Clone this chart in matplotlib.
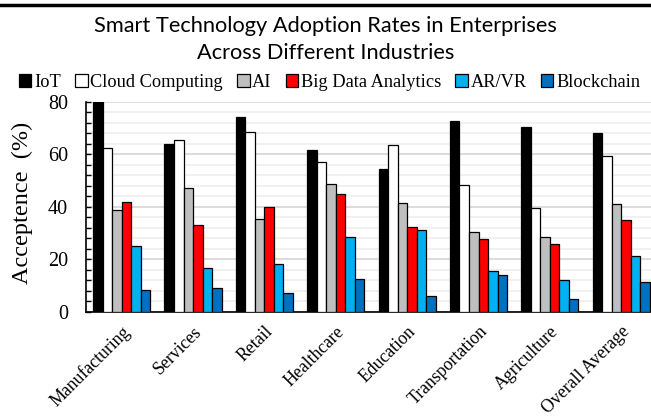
import numpy as np
import matplotlib
matplotlib.use('Agg')
import matplotlib.pyplot as plt
from matplotlib.lines import Line2D
from matplotlib.ticker import MultipleLocator

industries = ['Manufacturing', 'Services', 'Retail', 'Healthcare', 'Education',
              'Transportation', 'Agriculture', 'Overall Average']
technologies = ['IoT', 'Cloud Computing', 'AI', 'Big Data Analytics', 'AR/VR', 'Blockchain']

iot = [80.0, 63.9, 74.4, 61.7, 54.5, 72.8, 70.5, 68.2]
cloud = [62.4, 65.7, 68.5, 57.0, 63.8, 48.4, 39.8, 59.3]
ai = [38.7, 47.4, 35.4, 48.6, 41.7, 30.4, 28.5, 41.0]
big_data = [42.0, 33.2, 40.0, 45.0, 32.4, 27.7, 25.8, 35.0]
ar_vr = [25.2, 16.6, 18.2, 28.5, 31.1, 15.5, 12.1, 21.2]
blockchain = [8.5, 9.1, 7.2, 12.5, 6.1, 14.2, 4.8, 11.4]

colors = ['#000000', '#ffffff', '#bfbfbf', '#ff0000', '#00b0f0', '#0070c0']

serif = 'Liberation Serif'

fig = plt.figure(figsize=(6.51, 4.17), dpi=100)
# axes runs past the right edge, as in the cropped original
ax = fig.add_axes([0.1321, 0.2518, 0.877, 0.5036])

series = [iot, cloud, ai, big_data, ar_vr, blockchain]
x = np.arange(len(industries))
w = 0.8 / len(series)
for i, (vals, name) in enumerate(zip(series, technologies)):
    ax.bar(x - 0.4 + w * (i + 0.5), vals, w, color=colors[i], edgecolor='black',
           linewidth=0.9, label=name, zorder=3)

ax.set_xlim(-0.5, len(industries) - 0.5)
ax.set_ylim(0, 80)
ax.yaxis.set_major_locator(MultipleLocator(20))
ax.yaxis.set_minor_locator(MultipleLocator(4))
ax.grid(axis='y', which='major', color='#d9d9d9', linewidth=1.3, zorder=0)
ax.grid(axis='y', which='minor', color='#f0f0f0', linewidth=1.3, zorder=0)
ax.tick_params(axis='y', which='both', direction='in', length=3.5, width=1,
               labelsize=14.5, pad=13)
ax.tick_params(axis='x', length=0, labelsize=12.8, pad=8)
for lab in ax.get_yticklabels():
    lab.set_fontfamily(serif)

ax.set_xticks(x)
ax.set_xticklabels(industries, rotation=45, ha='right', rotation_mode='anchor',
                   fontfamily=serif)

ax.spines['top'].set_visible(False)
ax.spines['right'].set_visible(False)
ax.spines['left'].set_linewidth(1.2)
ax.spines['bottom'].set_linewidth(1.2)

ax.set_ylabel('Acceptence  (%)', fontfamily=serif, fontsize=17.5)
ax.yaxis.set_label_coords(-0.093, 0.52)

fig.text(0.5, 0.905, 'Smart Technology Adoption Rates in Enterprises\nAcross Different Industries',
         ha='center', va='center', fontsize=15.7, fontfamily='Lato', linespacing=1.4)

fig.legend(loc='center', bbox_to_anchor=(0.506, 0.803), ncol=6, frameon=False,
           prop={'family': serif, 'size': 13.2}, handlelength=0.7, handleheight=0.7,
           handletextpad=0.15, columnspacing=0.75, borderpad=0)

# thick rule across the top
fig.add_artist(Line2D([0, 1], [0.989, 0.989], color='black', linewidth=2.5,
                      transform=fig.transFigure))

fig.savefig('out.png', dpi=100)
